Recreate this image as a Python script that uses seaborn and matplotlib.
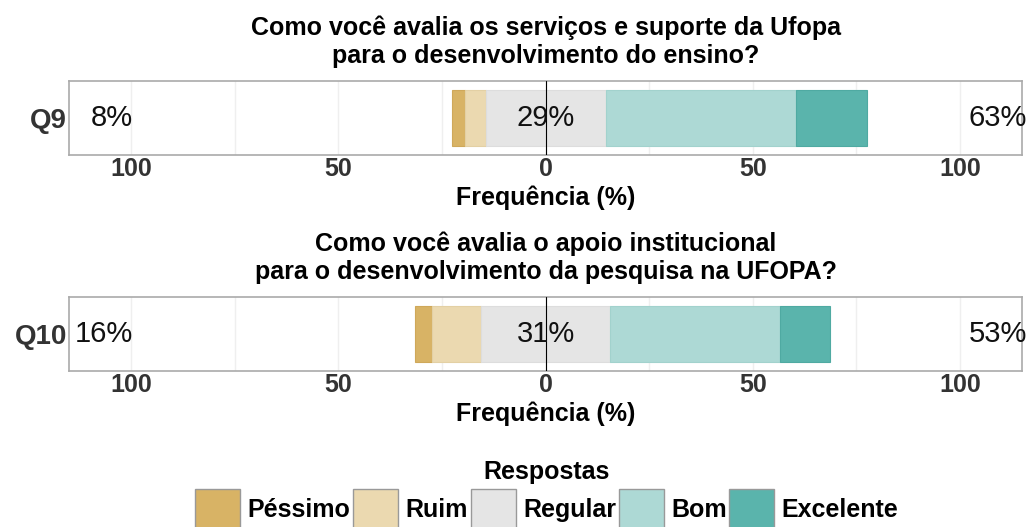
import numpy as np
import pandas as pd
import matplotlib.pyplot as plt
import seaborn as sns
from matplotlib.patches import Patch

# data (percent of answers)
questions = ['Q9', 'Q10']
titles = ['Como você avalia os serviços e suporte da Ufopa\npara o desenvolvimento do ensino?',
          'Como você avalia o apoio institucional\npara o desenvolvimento da pesquisa na UFOPA?']
levels = ['Péssimo', 'Ruim', 'Regular', 'Bom', 'Excelente']
pessimo = [3, 4]
ruim = [5, 12]
regular = [29, 31]
bom = [46, 41]
excelente = [17, 12]

colors = ['#D8B365', '#EBD9B0', '#E5E5E5', '#ADD9D5', '#5AB4AC']
edges = ['#CFA85A', '#E3D0A4', '#DDDDDD', '#A2D2CD', '#4FAAA2']

df = pd.DataFrame({'Péssimo': pessimo, 'Ruim': ruim, 'Regular': regular,
                   'Bom': bom, 'Excelente': excelente}, index=questions)

sns.set_theme(style='white')
plt.rcParams['font.family'] = ['Liberation Sans', 'DejaVu Sans']

fig = plt.figure(figsize=(10.26, 5.27), dpi=100)
ax_pos = [[0.0673, 0.706, 0.929, 0.140], [0.0673, 0.296, 0.929, 0.140]]

for i, q in enumerate(questions):
    ax = fig.add_axes(ax_pos[i])
    row = df.loc[q]
    start = -(row['Regular'] / 2 + row['Ruim'] + row['Péssimo'])
    for x in range(-100, 101, 25):
        ax.axvline(x, color='#EFEFEF', lw=1, zorder=0)
    left = start
    for lev, c, ec in zip(levels, colors, edges):
        ax.barh(0, row[lev], left=left, height=0.9, color=c, edgecolor=ec, lw=0.8, zorder=2)
        left += row[lev]
    ax.axvline(0, color='black', lw=0.8, zorder=3)
    low = row['Péssimo'] + row['Ruim']
    high = row['Bom'] + row['Excelente']
    ax.text(-99.5, 0, f'{low}%', ha='right', va='center', fontsize=21, color='#111111', zorder=4)
    ax.text(0, 0, f'{row["Regular"]}%', ha='center', va='center', fontsize=21, color='#111111', zorder=4)
    ax.text(102, 0, f'{high}%', ha='left', va='center', fontsize=21, color='#111111', zorder=4,
            clip_on=False)
    ax.set_xlim(-115, 115)
    ax.set_ylim(-0.6, 0.6)
    ax.set_yticks([0])
    ax.set_yticklabels([q], fontsize=20, fontweight='bold', color='#333333')
    ax.set_xticks([-100, -50, 0, 50, 100])
    ax.set_xticklabels(['100', '50', '0', '50', '100'], fontsize=18, fontweight='bold', color='#333333')
    ax.tick_params(axis='x', length=0, pad=1.5)
    ax.tick_params(axis='y', length=0, pad=1.5)
    ax.set_xlabel('Frequência (%)', fontsize=18, fontweight='bold', color='black', labelpad=3.5)
    ax.set_title(titles[i], fontsize=18, fontweight='bold', color='black', linespacing=1.2, pad=13)
    for s in ax.spines.values():
        s.set_color('#AAAAAA')
        s.set_linewidth(1.2)

handles = [Patch(facecolor=c, edgecolor='#999999', label=l) for c, l in zip(colors, levels)]
leg = fig.legend(handles=handles, loc='upper center', bbox_to_anchor=(0.533, 0.146), ncol=5,
                 frameon=False, title='Respostas', handlelength=1.8, handleheight=2.1,
                 handletextpad=0.3, columnspacing=0.1, borderaxespad=0, labelspacing=0.2,
                 prop={'size': 18, 'weight': 'bold'})
leg.get_title().set_fontsize(18)
leg.get_title().set_fontweight('bold')
leg.get_title().set_color('black')
for t in leg.get_texts():
    t.set_color('black')

fig.savefig('out.png', dpi=100)
